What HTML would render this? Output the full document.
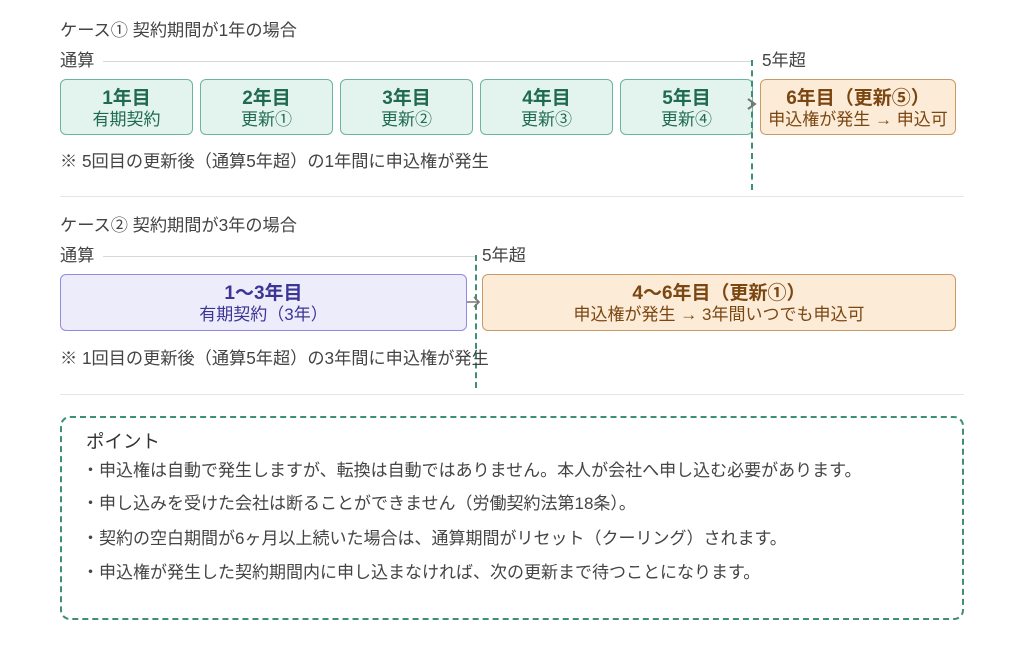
<!DOCTYPE html>
<html><head><meta charset="utf-8"><style>
body{margin:0;width:1024px;height:647px;background:#fff;font-family:"Liberation Sans","Noto Sans CJK JP",sans-serif;color:#444;position:relative;overflow:hidden}
.a{position:absolute;white-space:nowrap}
.t{font-size:17.2px;color:#444;line-height:20px}
.box{position:absolute;box-sizing:border-box;border:1px solid;border-radius:6px;text-align:center}
.g{background:#e2f4ed;border-color:#6bb59a;color:#1f6a50}
.o{background:#fcebd6;border-color:#c99a66;color:#7a4712}
.p{background:#edecfb;border-color:#908ae0;color:#3b3596}
.b1{font-size:19px;font-weight:bold;line-height:22px;margin-top:8px}
.b2{font-size:17px;line-height:20px}
.hl{position:absolute;height:1px;background:#d8d8d8}
.vd{position:absolute;width:0;border-left:2px dashed #3f8f78}
.bl{position:absolute;left:82px;font-size:17px;color:#444;white-space:nowrap;line-height:20px}
</style></head><body>
<div class="a t" style="left:60px;top:20px">ケース① 契約期間が1年の場合</div>
<div class="a t" style="left:60px;top:50px">通算</div>
<div class="hl" style="left:103px;top:61px;width:649px"></div>
<div class="a t" style="left:762px;top:50px">5年超</div>
<div class="box g" style="left:60px;top:79px;width:133px;height:56px"><div class="b1">1年目</div><div class="b2">有期契約</div></div>
<div class="box g" style="left:200px;top:79px;width:133px;height:56px"><div class="b1">2年目</div><div class="b2">更新①</div></div>
<div class="box g" style="left:340px;top:79px;width:133px;height:56px"><div class="b1">3年目</div><div class="b2">更新②</div></div>
<div class="box g" style="left:480px;top:79px;width:133px;height:56px"><div class="b1">4年目</div><div class="b2">更新③</div></div>
<div class="box g" style="left:620px;top:79px;width:133px;height:56px"><div class="b1">5年目</div><div class="b2">更新④</div></div>
<div class="box o" style="left:760px;top:79px;width:196px;height:56px"><div class="b1">6年目（更新⑤）</div><div class="b2">申込権が発生 → 申込可</div></div>
<div class="vd" style="left:751px;top:60px;height:130px"></div>
<svg class="a" style="left:744px;top:96px" width="16" height="16"><path d="M4 3 L11 8 L4 13" fill="none" stroke="#777" stroke-width="2"/></svg>
<div class="a t" style="left:60px;top:151px">※ 5回目の更新後（通算5年超）の1年間に申込権が発生</div>
<div class="hl" style="left:60px;top:196px;width:904px;background:#e6e6e6"></div>

<div class="a t" style="left:60px;top:215px">ケース② 契約期間が3年の場合</div>
<div class="a t" style="left:60px;top:245px">通算</div>
<div class="hl" style="left:103px;top:256px;width:373px"></div>
<div class="a t" style="left:482px;top:245px">5年超</div>
<div class="box p" style="left:60px;top:274px;width:407px;height:57px"><div class="b1">1～3年目</div><div class="b2">有期契約（3年）</div></div>
<div class="box o" style="left:482px;top:274px;width:474px;height:57px"><div class="b1">4～6年目（更新①）</div><div class="b2">申込権が発生 → 3年間いつでも申込可</div></div>
<div class="vd" style="left:475px;top:255px;height:133px"></div>
<svg class="a" style="left:466px;top:294px" width="16" height="16"><path d="M1 8 H13 M8 3 L13 8 L8 13" fill="none" stroke="#777" stroke-width="1.6"/></svg>
<div class="a t" style="left:60px;top:348px">※ 1回目の更新後（通算5年超）の3年間に申込権が発生</div>
<div class="hl" style="left:60px;top:394px;width:904px;background:#e6e6e6"></div>

<div style="position:absolute;left:60px;top:416px;width:904px;height:204px;box-sizing:border-box;border:2px dashed #3f8f78;border-radius:10px"></div>
<div class="a" style="left:86px;top:428px;font-size:18.5px;color:#333">ポイント</div>
<div class="bl" style="top:461px">・申込権は自動で発生しますが、転換は自動ではありません。本人が会社へ申し込む必要があります。</div>
<div class="bl" style="top:494px">・申し込みを受けた会社は断ることができません（労働契約法第18条）。</div>
<div class="bl" style="top:529px">・契約の空白期間が6ヶ月以上続いた場合は、通算期間がリセット（クーリング）されます。</div>
<div class="bl" style="top:563px">・申込権が発生した契約期間内に申し込まなければ、次の更新まで待つことになります。</div>
</body></html>
